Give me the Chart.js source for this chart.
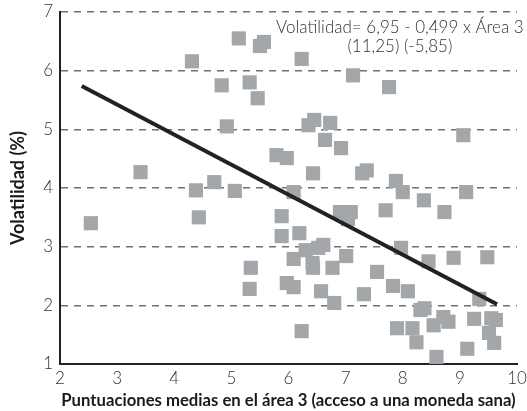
<!DOCTYPE html>
<html>
<head>
<meta charset="utf-8">
<script src="https://cdn.jsdelivr.net/npm/chart.js@4/dist/chart.umd.min.js"></script>
<style>
html,body{margin:0;padding:0;background:#fff;}
#wrap{width:527px;height:411px;position:relative;}
</style>
</head>
<body>
<div id="wrap"><canvas id="c" width="527" height="411"></canvas></div>
<script>
// Tick values
const xTickValues = [2, 3, 4, 5, 6, 7, 8, 9, 10];
const yTickValues = [1, 2, 3, 4, 5, 6, 7];

// Scatter data (área 3 score, volatility %)
const scoreArea3 = [
  2.54, 3.41, 4.31, 4.38, 4.43, 4.70, 4.83, 4.92, 5.06, 5.13,
  5.32, 5.46, 5.50, 5.57, 5.34, 5.32, 5.79, 5.97, 5.88, 5.88,
  6.09, 6.23, 6.19, 6.09, 5.97, 6.09, 6.23, 6.30, 6.42, 6.43,
  6.52, 6.61, 6.43, 6.57, 6.77, 6.80, 7.01, 6.35, 6.45, 6.73,
  6.64, 6.92, 7.13, 7.29, 7.37, 6.90, 7.09, 7.04, 7.32, 7.55,
  7.70, 7.76, 7.88, 8.00, 7.83, 7.97, 8.09, 7.90, 8.17, 8.24,
  8.37, 8.45, 8.73, 8.38, 8.31, 8.54, 8.71, 8.80, 8.59, 8.89,
  9.06, 9.11, 9.13, 9.25, 9.34, 9.48, 9.55, 9.63, 9.51, 9.60
];
const volatility = [
  3.40, 4.27, 6.16, 3.96, 3.50, 4.10, 5.75, 5.05, 3.95, 6.55,
  5.80, 5.53, 6.42, 6.49, 2.64, 2.28, 4.56, 4.51, 3.52, 3.18,
  3.93, 6.20, 3.23, 2.79, 2.38, 2.31, 1.56, 2.94, 2.72, 2.64,
  2.98, 3.03, 4.25, 2.24, 2.64, 2.04, 2.84, 5.07, 5.16, 5.11,
  4.82, 4.68, 5.92, 4.25, 4.30, 3.59, 3.59, 3.47, 2.19, 2.57,
  3.62, 5.72, 4.12, 3.93, 2.33, 2.98, 2.24, 1.61, 1.61, 1.37,
  3.79, 2.75, 3.59, 1.95, 1.92, 1.66, 1.80, 1.72, 1.12, 2.81,
  4.90, 3.93, 1.26, 1.77, 2.11, 2.82, 1.78, 1.75, 1.53, 1.36
];

// Regression line endpoints
const trendX = [2.38, 9.65];
const trendY = [5.74, 2.02];

const equationLines = ['Volatilidad= 6,95 - 0,499 x Área 3', '(11,25) (-5,85)'];
const xTitle = 'Puntuaciones medias en el área 3 (acceso a una moneda sana)';
const yTitle = 'Volatilidad (%)';

const scatterPoints = scoreArea3.map((x, i) => ({x: x, y: volatility[i]}));
const trendPoints = trendX.map((x, i) => ({x: x, y: trendY[i]}));

const lightFont = "Lato, 'Open Sans', sans-serif";
const boldFont = "Lato, 'Open Sans', sans-serif";

const equationPlugin = {
  id: 'equation',
  afterDraw(chart) {
    const ctx = chart.ctx;
    const xs = chart.scales.x;
    const ys = chart.scales.y;
    ctx.save();
    ctx.fillStyle = '#333';
    ctx.font = "300 17px " + lightFont;
    ctx.textAlign = 'center';
    ctx.textBaseline = 'alphabetic';
    const cx = xs.getPixelForValue(7.95);
    ctx.fillText(equationLines[0], cx, ys.getPixelForValue(6.65));
    ctx.fillText(equationLines[1], cx, ys.getPixelForValue(6.32));
    ctx.restore();
  }
};

new Chart(document.getElementById('c'), {
  type: 'scatter',
  data: {
    datasets: [
      {
        type: 'line',
        data: trendPoints,
        borderColor: '#222',
        borderWidth: 4,
        pointRadius: 0,
        fill: false,
        order: 0
      },
      {
        type: 'scatter',
        data: scatterPoints,
        pointStyle: 'rect',
        pointRadius: 10,
        pointHoverRadius: 10,
        backgroundColor: '#a3a7aa',
        borderWidth: 0,
        order: 1
      }
    ]
  },
  options: {
    responsive: false,
    animation: false,
    events: [],
    layout: {padding: {left: 0, right: 7, top: 12, bottom: 0}},
    plugins: {legend: {display: false}, tooltip: {enabled: false}},
    scales: {
      x: {
        type: 'linear',
        min: 2, max: 10,
        afterBuildTicks(scale) { scale.ticks = xTickValues.map(v => ({value: v})); },
        afterFit(scale) { scale.height = 47; scale.paddingLeft = 0; scale.paddingRight = 0; },
        ticks: {color: '#333', font: {family: lightFont, size: 17, weight: '300'}, padding: 4},
        grid: {display: false, drawTicks: false},
        border: {display: true, color: '#222', width: 2},
        title: {display: true, text: xTitle, color: '#1a1a1a', font: {family: boldFont, size: 16.7, weight: 'bold'}, padding: {top: 0, bottom: 0}}
      },
      y: {
        type: 'linear',
        min: 1, max: 7,
        afterBuildTicks(scale) { scale.ticks = yTickValues.map(v => ({value: v})); },
        afterFit(scale) { scale.width = 60; scale.paddingTop = 0; scale.paddingBottom = 0; },
        ticks: {color: '#333', font: {family: lightFont, size: 17, weight: '300'}, padding: 7},
        grid: {
          drawTicks: false,
          lineWidth: 1.5,
          color: (c) => (c.tick && c.tick.value === 1) ? 'rgba(0,0,0,0)' : '#707070'
        },
        border: {display: true, color: '#222', width: 2, dash: [7, 6]},
        title: {display: true, text: yTitle, color: '#1a1a1a', font: {family: boldFont, size: 18, weight: 'bold'}, padding: {top: 7, bottom: 0}}
      }
    }
  },
  plugins: [equationPlugin]
});
</script>
</body>
</html>
